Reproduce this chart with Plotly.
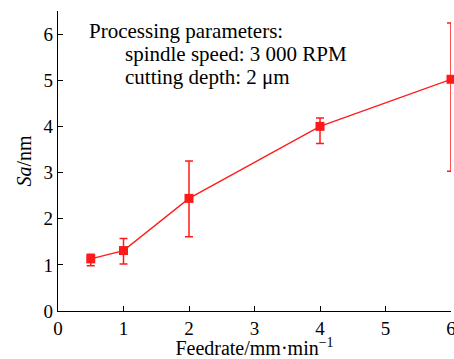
import plotly.graph_objects as go

feedrate = [0.5, 1, 2, 4, 6]
sa_nm = [1.13, 1.31, 2.44, 4.00, 5.02]
err_plus = [0.10, 0.26, 0.81, 0.18, 1.22]
err_minus = [0.15, 0.29, 0.83, 0.37, 1.99]

x_ticks = [0, 1, 2, 3, 4, 5, 6]
y_ticks = [0, 1, 2, 3, 4, 5, 6]

notes = [
    "Processing parameters:",
    "spindle speed: 3 000 RPM",
    "cutting depth: 2 \u03bcm",
]

RED = "#ff1a1a"
FONT = "Liberation Serif, Times New Roman, serif"

fig = go.Figure(
    go.Scatter(
        x=feedrate,
        y=sa_nm,
        mode="lines+markers",
        line=dict(color=RED, width=1.3),
        marker=dict(symbol="square", size=9, color=RED),
        error_y=dict(
            type="data",
            symmetric=False,
            array=err_plus,
            arrayminus=err_minus,
            color=RED,
            thickness=1.5,
            width=4,
        ),
        cliponaxis=False,
        showlegend=False,
    )
)

axis_common = dict(
    showline=True,
    linecolor="black",
    linewidth=1.3,
    ticks="inside",
    ticklen=5,
    tickwidth=1.2,
    tickcolor="black",
    showgrid=False,
    zeroline=False,
    tickfont=dict(family=FONT, size=19, color="black"),
    ticklabeloverflow="allow",
    automargin=False,
)

fig.update_xaxes(
    range=[0, 6],
    tickvals=x_ticks,
    title=dict(
        text="Feedrate/mm\u00b7min<sup>\u22121</sup>",
        font=dict(family=FONT, size=20, color="black"),
        standoff=0,
    ),
    **axis_common,
)
fig.update_yaxes(
    range=[0, 6.5],
    tickvals=y_ticks,
    title=dict(
        text="<i>Sa</i>/nm",
        font=dict(family=FONT, size=20, color="black"),
        standoff=6,
    ),
    **axis_common,
)

note_pos = [(88, 31), (124, 54), (124, 77)]
for text, (px, py) in zip(notes, note_pos):
    fig.add_annotation(
        x=(px - 58) / 393,
        y=(311 - py) / 300,
        xref="paper",
        yref="paper",
        xanchor="left",
        yanchor="middle",
        xshift=-1,
        text=text,
        showarrow=False,
        font=dict(family=FONT, size=21, color="black"),
    )

fig.update_layout(
    width=454,
    height=359,
    margin=dict(l=58, r=3, t=11, b=48),
    paper_bgcolor="white",
    plot_bgcolor="white",
)

fig.write_html("out.html")
